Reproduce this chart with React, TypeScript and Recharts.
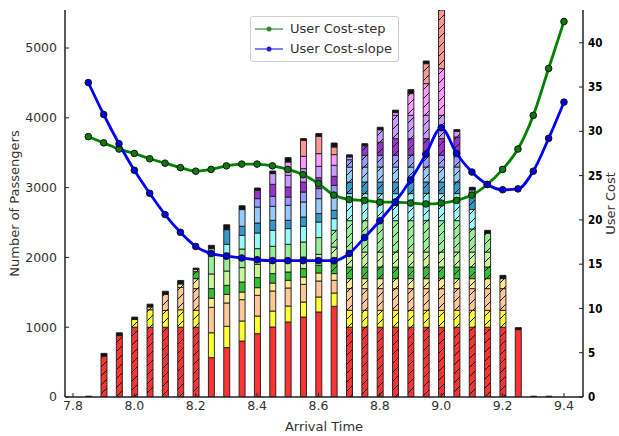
import React from 'react';
import { ComposedChart, Bar, Line, XAxis, YAxis, Cell, Label, Legend } from 'recharts';

// arrival times (hours)
const times = [
  7.85, 7.9, 7.95, 8.0, 8.05, 8.1, 8.15, 8.2, 8.25, 8.3, 8.35, 8.4, 8.45, 8.5, 8.55, 8.6,
  8.65, 8.7, 8.75, 8.8, 8.85, 8.9, 8.95, 9.0, 9.05, 9.1, 9.15, 9.2, 9.25, 9.3, 9.35, 9.4,
];

// passengers per user group (stack order, bottom to top)
const red = [0, 585, 880, 1000, 1000, 1000, 1000, 1000, 564, 708, 802, 908, 1003, 1074, 1146, 1218, 1300, 1000, 1000, 1000, 1000, 1000, 1000, 1000, 1000, 1000, 1000, 1000, 966, 0, 0, 0];
const yellow = [0, 0, 0, 110, 250, 240, 250, 242, 356, 305, 287, 252, 229, 230, 215, 215, 190, 242, 242, 242, 242, 242, 242, 242, 242, 242, 242, 242, 0, 0, 0, 0];
const peach = [0, 0, 0, 0, 40, 230, 320, 311, 365, 334, 306, 297, 287, 258, 253, 229, 182, 311, 311, 311, 311, 311, 311, 311, 311, 311, 311, 311, 0, 0, 0, 0];
const lightYellow = [0, 0, 0, 0, 0, 0, 50, 143, 130, 124, 109, 110, 114, 110, 105, 115, 96, 143, 143, 143, 143, 143, 143, 143, 143, 143, 143, 143, 0, 0, 0, 0];
const green = [0, 0, 0, 0, 0, 0, 0, 100, 138, 129, 144, 144, 135, 119, 121, 110, 143, 166, 166, 166, 166, 166, 166, 166, 166, 166, 166, 0, 0, 0, 0, 0];
const yellowGreen = [0, 0, 0, 0, 0, 0, 0, 30, 210, 205, 206, 190, 215, 143, 166, 157, 238, 215, 215, 215, 215, 215, 215, 215, 215, 215, 215, 0, 0, 0, 0, 0];
const lightGreen = [0, 0, 0, 0, 0, 0, 0, 0, 272, 258, 266, 225, 176, 254, 215, 240, 239, 450, 450, 450, 450, 450, 450, 450, 450, 330, 270, 0, 0, 0, 0, 0];
const cyan = [0, 0, 0, 0, 0, 0, 0, 0, 90, 125, 197, 224, 229, 225, 225, 223, 168, 387, 387, 387, 387, 387, 387, 387, 387, 280, 0, 0, 0, 0, 0, 0];
const teal = [0, 0, 0, 0, 0, 0, 0, 0, 0, 210, 129, 143, 144, 119, 133, 121, 119, 166, 166, 166, 166, 166, 166, 166, 166, 200, 0, 0, 0, 0, 0, 0];
const lightBlue = [0, 0, 0, 0, 0, 0, 0, 0, 0, 0, 239, 229, 200, 215, 215, 214, 190, 215, 215, 215, 215, 215, 215, 215, 215, 80, 0, 0, 0, 0, 0, 0];
const periwinkle = [0, 0, 0, 0, 0, 0, 0, 0, 0, 0, 0, 120, 143, 118, 143, 144, 168, 105, 168, 168, 168, 168, 168, 168, 168, 0, 0, 0, 0, 0, 0, 0];
const purple = [0, 0, 0, 0, 0, 0, 0, 0, 0, 0, 0, 119, 172, 144, 143, 157, 129, 0, 137, 187, 239, 239, 239, 239, 262, 0, 0, 0, 0, 0, 0, 0];
const lavender = [0, 0, 0, 0, 0, 0, 0, 0, 0, 0, 0, 0, 154, 167, 192, 162, 158, 40, 0, 180, 334, 334, 334, 334, 82, 0, 0, 0, 0, 0, 0, 0];
const pink = [0, 0, 0, 0, 0, 0, 0, 0, 0, 0, 0, 0, 0, 191, 177, 182, 153, 0, 0, 0, 39, 311, 454, 669, 0, 0, 0, 0, 0, 0, 0, 0];
const salmon = [0, 0, 0, 0, 0, 0, 0, 0, 0, 0, 0, 0, 0, 0, 229, 248, 109, 0, 0, 0, 0, 0, 286, 900, 0, 0, 0, 0, 0, 0, 0, 0];
const rest = [12, 40, 40, 35, 40, 45, 50, 20, 48, 70, 55, 33, 37, 63, 24, 39, 57, 30, 30, 35, 35, 57, 38, 0, 24, 38, 41, 47, 28, 12, 12, 0];

// which bars belong to the step toll (hatched)
const stepBars = [false, true, true, true, true, true, true, true, false, false, false, false, false, false, false, false, false, true, true, true, true, true, true, true, true, true, true, true, false, false, false, false];
const stepGroupsAt865 = ['green', 'yellowGreen', 'lightGreen'];

// user cost lines
const costStep = [29.4, 28.7, 28.0, 27.5, 26.9, 26.4, 25.9, 25.5, 25.7, 26.1, 26.3, 26.3, 26.1, 25.7, 25.1, 24.1, 22.8, 22.3, 22.2, 22.0, 22.0, 21.9, 21.8, 21.9, 22.2, 22.8, 24.0, 25.7, 28.0, 31.8, 37.1, 42.4];
const costSlope = [35.5, 31.9, 28.6, 25.6, 23.0, 20.6, 18.6, 17.0, 16.2, 15.9, 15.7, 15.5, 15.4, 15.4, 15.4, 15.4, 15.4, 16.2, 18.0, 19.9, 22.0, 24.5, 27.4, 30.4, 27.5, 25.4, 24.0, 23.4, 23.5, 25.5, 29.2, 33.3];

const xTicks = [7.8, 8.0, 8.2, 8.4, 8.6, 8.8, 9.0, 9.2, 9.4];
const leftTicks = [0, 1000, 2000, 3000, 4000, 5000];
const rightTicks = [0, 5, 10, 15, 20, 25, 30, 35, 40];

const groups = [
  { key: 'red', color: '#ff3333', values: red },
  { key: 'yellow', color: '#ffff33', values: yellow },
  { key: 'peach', color: '#ffc896', values: peach },
  { key: 'lightYellow', color: '#ffe98f', values: lightYellow },
  { key: 'green', color: '#33c133', values: green },
  { key: 'yellowGreen', color: '#c8f79a', values: yellowGreen },
  { key: 'lightGreen', color: '#96ee96', values: lightGreen },
  { key: 'cyan', color: '#96fafa', values: cyan },
  { key: 'teal', color: '#3399cc', values: teal },
  { key: 'lightBlue', color: '#96c8fa', values: lightBlue },
  { key: 'periwinkle', color: '#9999ff', values: periwinkle },
  { key: 'purple', color: '#9933cc', values: purple },
  { key: 'lavender', color: '#cc99ff', values: lavender },
  { key: 'pink', color: '#ff99ff', values: pink },
  { key: 'salmon', color: '#ff9696', values: salmon },
  { key: 'rest', color: '#111111', values: rest },
];

const data = times.map((t, i) => {
  const row: Record<string, number> = { t, costStep: costStep[i], costSlope: costSlope[i] };
  groups.forEach((g) => {
    row[g.key] = g.values[i];
  });
  return row;
});

const isHatched = (i: number, key: string) => {
  if (key === 'rest') return false;
  if (times[i] === 8.65) return stepGroupsAt865.includes(key);
  return stepBars[i];
};

const font = 'DejaVu Sans';

const CostDot = (color: string) => (props: any) => {
  const { cx, cy, index } = props;
  if (cx == null || cy == null) return null;
  return <circle key={index} cx={cx} cy={cy} r={3.3} fill={color} stroke="#111" strokeWidth={1} />;
};

const LegendBox = () => (
  <div
    style={{
      border: '1px solid #d0d0d0',
      borderRadius: 3,
      background: 'rgba(255,255,255,0.85)',
      padding: '2px 6px 2px 3px',
      fontFamily: font,
      fontSize: 13,
      color: '#333',
      lineHeight: '20px',
    }}
  >
    {[
      { name: 'User Cost-step', line: '#80c080', dot: '#2f8a2f' },
      { name: 'User Cost-slope', line: '#8080ff', dot: '#2020c0' },
    ].map((it) => (
      <div key={it.name} style={{ display: 'flex', alignItems: 'center' }}>
        <svg width={30} height={20}>
          <line x1={1} y1={10} x2={29} y2={10} stroke={it.line} strokeWidth={2} />
          <circle cx={15} cy={10} r={2.5} fill={it.dot} />
        </svg>
        <span style={{ marginLeft: 6 }}>{it.name}</span>
      </div>
    ))}
  </div>
);

const App: React.FC = () => {
  return (
    <div style={{ position: 'absolute', left: 0, top: 0, background: '#fff' }}>
      <ComposedChart width={619} height={436} data={data} margin={{ top: 10, right: 0, bottom: 0, left: 0 }}>
        <defs>
          {groups.map((g) => (
            <pattern key={g.key} id={`h-${g.key}`} patternUnits="userSpaceOnUse" width={9} height={9}>
              <rect width={9} height={9} fill={g.color} />
              <path d="M0,9 L9,0 M-2,2 L2,-2 M7,11 L11,7" stroke="#111" strokeWidth={1} />
            </pattern>
          ))}
        </defs>
        <XAxis
          dataKey="t"
          type="number"
          domain={[7.774, 9.462]}
          ticks={xTicks}
          tickFormatter={(v: number) => v.toFixed(1)}
          height={39}
          tickSize={-4}
          tickMargin={8}
          tick={{ fill: '#333', fontSize: 12.5, fontFamily: font }}
          axisLine={{ stroke: '#222', strokeWidth: 1.5 }}
          tickLine={{ stroke: '#222' }}
        >
          <Label value="Arrival Time" position="center" dy={10} style={{ fill: '#333', fontSize: 13, fontFamily: font }} />
        </XAxis>
        <XAxis
          xAxisId="top"
          dataKey="t"
          type="number"
          orientation="top"
          domain={[7.774, 9.462]}
          height={0}
          tick={false}
          tickLine={false}
          axisLine={{ stroke: '#222', strokeWidth: 1.5 }}
        />
        <YAxis
          yAxisId="left"
          domain={[0, 5545]}
          allowDataOverflow
          ticks={leftTicks}
          width={65}
          tickSize={-4}
          tickMargin={12}
          tick={{ fill: '#333', fontSize: 12.5, fontFamily: font }}
          axisLine={{ stroke: '#222', strokeWidth: 1.5 }}
          tickLine={{ stroke: '#222' }}
        >
          <Label value="Number of Passengers" angle={-90} position="center" dx={-18} style={{ fill: '#333', fontSize: 13, fontFamily: font }} />
        </YAxis>
        <YAxis
          yAxisId="right"
          orientation="right"
          domain={[0, 43.7]}
          allowDataOverflow
          ticks={rightTicks}
          width={36}
          tickSize={-4}
          tickMargin={9}
          tick={{ fill: '#000', fontSize: 11.5, fontFamily: 'DejaVu Sans Condensed', fontWeight: 'bold' }}
          axisLine={{ stroke: '#222', strokeWidth: 1.5 }}
          tickLine={{ stroke: '#222' }}
        >
          <Label value="User Cost" angle={-90} position="center" dx={9} style={{ fill: '#333', fontSize: 13, fontFamily: font }} />
        </YAxis>
        {groups.map((g) => (
          <Bar
            key={g.key}
            dataKey={g.key}
            stackId="s"
            yAxisId="left"
            barSize={6}
            fill={g.color}
            stroke="#1a1a1a"
            strokeWidth={0.9}
            isAnimationActive={false}
          >
            {data.map((_, i) => (
              <Cell key={i} fill={isHatched(i, g.key) ? `url(#h-${g.key})` : g.color} />
            ))}
          </Bar>
        ))}
        <Line
          yAxisId="right"
          dataKey="costStep"
          type="monotone"
          stroke="#008000"
          strokeWidth={2.8}
          dot={CostDot('#0a7a0a')}
          isAnimationActive={false}
        />
        <Line
          yAxisId="right"
          dataKey="costSlope"
          type="monotone"
          stroke="#0000ff"
          strokeWidth={2.8}
          dot={CostDot('#0000e0')}
          isAnimationActive={false}
        />
        <Legend
          layout="horizontal"
          verticalAlign="middle"
          align="center"
          wrapperStyle={{ left: 250, top: 16, width: 'auto', height: 'auto' }}
          content={() => <LegendBox />}
        />
      </ComposedChart>
    </div>
  );
};

export default App;
